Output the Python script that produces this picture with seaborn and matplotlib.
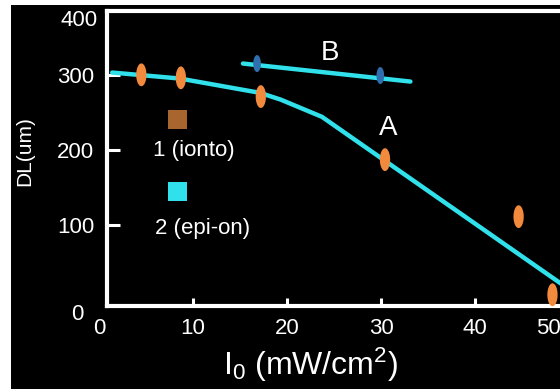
import numpy as np
import pandas as pd
import matplotlib
matplotlib.use("Agg")
import matplotlib.pyplot as plt
import seaborn as sns
from matplotlib.path import Path
from matplotlib.patches import Rectangle

# ---- data ----
orange_x = [4.5, 8.7, 17.2, 30.4, 44.6, 48.2]
orange_y = [300, 296, 271, 187, 111, 7]
blue_x = [16.8, 29.9]
blue_y = [315, 299]
lineA_x = [1.4, 8.6, 17.1, 19.3, 23.7, 50.0]
lineA_y = [303, 295, 276, 267, 244, 14]
lineB_x = [15.3, 33.1]
lineB_y = [315, 291]
legend_labels = ["1 (ionto)", "2 (epi-on)"]
legend_sq_x = [8.3, 8.3]
legend_sq_y = [240, 144]
legend_txt_x = [10.1, 11.0]
legend_txt_y = [199, 95]
curve_labels = ["B", "A"]
curve_lab_x = [24.5, 30.7]
curve_lab_y = [329, 229]
xticks = [10, 20, 30, 40]
yticks = [100, 200, 300]

ORANGE = "#f28a3e"
BLUE = "#2f6fae"
CYAN = "#30e0ea"
BROWN = "#a9652e"

sns.set_style("dark", rc={"axes.facecolor": "black", "figure.facecolor": "white"})
plt.rcParams['font.family'] = ['Liberation Sans', 'DejaVu Sans']
plt.rcParams['mathtext.fontset'] = 'custom'
plt.rcParams['mathtext.rm'] = 'Liberation Sans'
plt.rcParams['mathtext.it'] = 'Liberation Sans:italic'

fig = plt.figure(figsize=(5.6, 3.89), dpi=100)
fig.patches.append(Rectangle((11 / 560, 0), 1, 1 - 5 / 389, transform=fig.transFigure,
                             facecolor="black", edgecolor="none", zorder=-10))
ax = fig.add_axes([107 / 560, 1 - 306 / 389, 453 / 560, 295 / 389])
ax.set_facecolor("black")
ax.grid(False)

dfA = pd.DataFrame({"x": lineA_x, "y": lineA_y})
dfB = pd.DataFrame({"x": lineB_x, "y": lineB_y})
sns.lineplot(data=dfA, x="x", y="y", ax=ax, color=CYAN, lw=3.2, sort=False, zorder=2)
sns.lineplot(data=dfB, x="x", y="y", ax=ax, color=CYAN, lw=3.2, sort=False, zorder=2)

t = np.linspace(0, 2 * np.pi, 60)
ell = Path(np.column_stack([0.45 * np.cos(t), np.sin(t)]))
dfO = pd.DataFrame({"x": orange_x, "y": orange_y})
dfBl = pd.DataFrame({"x": blue_x, "y": blue_y})
sns.scatterplot(data=dfO, x="x", y="y", ax=ax, marker=ell, s=270, color=ORANGE,
                edgecolor="none", zorder=3, clip_on=False)
sns.scatterplot(data=dfBl, x="x", y="y", ax=ax, marker=ell, s=150, color=BLUE,
                edgecolor="none", zorder=3)

dfL = pd.DataFrame({"x": legend_sq_x, "y": legend_sq_y, "c": [BROWN, CYAN]})
for i in range(len(dfL)):
    ax.scatter(dfL.x[i], dfL.y[i], marker="s", s=190, color=dfL.c[i], edgecolor="none", zorder=3)
for lab, x, y in zip(legend_labels, legend_txt_x, legend_txt_y):
    ax.text(x, y, lab, color="white", fontsize=16, ha="center", va="center")
for lab, x, y in zip(curve_labels, curve_lab_x, curve_lab_y):
    ax.text(x, y, lab, color="white", fontsize=20, ha="center", va="center")

ax.set_xlim(0.85, 49.0)
ax.set_ylim(-8, 385)
ax.set_xticks(xticks)
ax.set_yticks(yticks)
ax.tick_params(axis="x", direction="in", length=6, width=2.2, color="white",
               labelcolor="white", labelsize=16, pad=9, bottom=True)
ax.tick_params(axis="y", direction="in", length=9, width=2.2, color="white",
               labelcolor="white", labelsize=16, pad=9, left=True)
# extra end labels
ax.text(0.0, -0.075, "0", transform=ax.get_xaxis_transform(), color="white",
        fontsize=16, ha="center", va="center", clip_on=False)
ax.text(47.8, -0.075, "50", transform=ax.get_xaxis_transform(), color="white",
        fontsize=16, ha="center", va="center", clip_on=False)
ax.text(-0.051, -19, "0", transform=ax.get_yaxis_transform(), color="white",
        fontsize=16, ha="right", va="center", clip_on=False)
ax.text(-0.02, 372, "400", transform=ax.get_yaxis_transform(), color="white",
        fontsize=16, ha="right", va="center", clip_on=False)

for side in ["left", "bottom", "top"]:
    ax.spines[side].set_visible(True)
    ax.spines[side].set_color("white")
    ax.spines[side].set_linewidth(3)
ax.spines["right"].set_visible(False)

ax.set_xlabel("I$_0$ (mW/cm$^2$)", color="white", fontsize=23)
ax.xaxis.set_label_coords(0.448, -0.135)
ax.set_ylabel("DL(um)", color="white", fontsize=15)
ax.yaxis.set_label_coords(-0.16, 0.525)

fig.savefig("out.png", dpi=100, facecolor=fig.get_facecolor())
